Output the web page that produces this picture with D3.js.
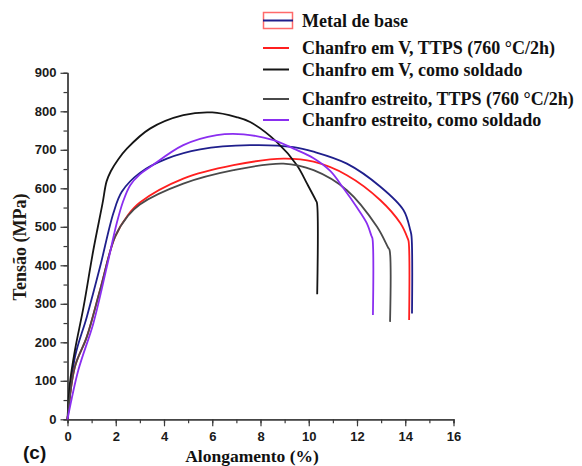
<!DOCTYPE html>
<html><head><meta charset="utf-8">
<script src="https://cdn.jsdelivr.net/npm/d3@7"></script>
<style>body{margin:0;background:#fff}svg{display:block}</style>
</head><body>
<svg id="c" width="582" height="466"></svg>
<script>
// ---- data ----
const seriesNames = ["Metal de base","Chanfro em V, TTPS (760 °C/2h)","Chanfro em V, como soldado","Chanfro estreito, TTPS (760 °C/2h)","Chanfro estreito, como soldado"];
const seriesColors = ["#1f1f8c","#ff1f1f","#151515","#4a4a4a","#8a2ef0"];
const metalBaseX = [0,0.03,0.31,0.8,1.35,1.9,2.25,3.0,4.12,5.5,7.57,9.37,10.2,11.58,12.97,13.93,14.21,14.26,14.28];
const metalBaseY = [0,17,162,266,396,535,591,640,677,701,712,707,695,664,604,543,491,475,275];
const vTtpsX = [0,0.31,0.8,1.35,1.97,2.5,3.0,4.8,6.88,8.95,10.2,11.58,12.97,13.8,14.1,14.14,14.16];
const vTtpsY = [0,137,214,336,474,530,563,625,660,677,669,634,569,509,470,462,258];
const vAsWeldedX = [0,0.1,0.31,0.66,1.07,1.45,1.62,1.8,2.1,2.46,3.42,4.8,6.0,7.0,7.57,8.68,9.51,9.93,10.3,10.34,10.35];
const vAsWeldedY = [0,94,180,290,439,560,618,645,675,703,755,790,797,785,772,720,660,612,568,562,325];
const nTtpsX = [0,0.31,0.8,1.35,1.97,2.5,3.0,4.8,6.88,8.95,10.2,11.58,12.83,13.3,13.35,13.37];
const nTtpsY = [0,137,214,336,474,528,558,612,647,664,647,595,500,445,440,253];
const nAsWeldedX = [0,0.45,1.07,1.63,2.04,2.3,2.6,3.0,3.42,4.8,6.19,7.3,8.54,9.37,10.2,10.89,11.44,12.0,12.41,12.6,12.64,12.66];
const nAsWeldedY = [0,128,249,396,509,565,608,636,655,712,738,740,725,703,678,645,600,550,509,476,470,271];
const xTicks = [0,2,4,6,8,10,12,14,16];
const yTicks = [0,100,200,300,400,500,600,700,800,900];

const seriesX = [metalBaseX,vTtpsX,vAsWeldedX,nTtpsX,nAsWeldedX];
const seriesY = [metalBaseY,vTtpsY,vAsWeldedY,nTtpsY,nAsWeldedY];

const svg = d3.select("#c");
const x = d3.scaleLinear().domain([0,16]).range([67.5,453.5]);
const y = d3.scaleLinear().domain([0,900]).range([419.3,72.8]);

// axes
const axisColor = "#3a3a3a";
function styleAxis(g){
  g.select(".domain").attr("stroke",axisColor).attr("stroke-width",1.3);
  g.selectAll(".tick line").attr("stroke",axisColor).attr("stroke-width",1.2);
  g.selectAll(".tick text").attr("fill","#1a1a1a").attr("font-family","'Liberation Sans',Arial,sans-serif").attr("font-weight","bold").attr("font-size",13);
}
const xMinor = d3.range(0,17,1);
const yMinor = d3.range(0,901,50);
svg.append("g").attr("transform",`translate(0,${y(0)})`)
  .call(d3.axisBottom(x).tickValues(xMinor).tickSize(4).tickFormat("")).call(styleAxis);
svg.append("g").attr("transform",`translate(${x(0)},0)`)
  .call(d3.axisLeft(y).tickValues(yMinor).tickSize(4).tickFormat("")).call(styleAxis);
svg.append("g").attr("transform",`translate(0,${y(0)})`)
  .call(d3.axisBottom(x).tickValues(xTicks).tickSize(7).tickSizeOuter(0).tickPadding(5).tickFormat(d3.format("d"))).call(styleAxis);
svg.append("g").attr("transform",`translate(${x(0)},0)`)
  .call(d3.axisLeft(y).tickValues(yTicks).tickSize(7).tickSizeOuter(0).tickPadding(4).tickFormat(d3.format("d"))).call(styleAxis);

// lines
const line = d3.line().x(d=>x(d[0])).y(d=>y(d[1])).curve(d3.curveCatmullRom.alpha(0.5));
seriesX.forEach((xs,i)=>{
  const pts = xs.map((v,j)=>[v,seriesY[i][j]]);
  svg.append("path").datum(pts).attr("d",line).attr("fill","none")
    .attr("stroke",seriesColors[i]).attr("stroke-width",1.8).attr("stroke-linejoin","round");
});

// legend
const legY = [20.5,48,69.5,99,120];
const lg = svg.append("g");
seriesNames.forEach((n,i)=>{
  if(i===0){
    lg.append("rect").attr("x",263.5).attr("y",12.5).attr("width",29).attr("height",16)
      .attr("fill","none").attr("stroke","#ff6a6a").attr("stroke-width",1.5);
  }
  lg.append("line").attr("x1",263).attr("x2",i===0?293:289).attr("y1",legY[i]).attr("y2",legY[i])
    .attr("stroke",seriesColors[i]).attr("stroke-width",2);
  lg.append("text").attr("x",302).attr("y",legY[i]).attr("dy","0.35em")
    .attr("font-family","'Liberation Serif','Times New Roman',serif").attr("font-weight","bold")
    .attr("font-size",18).attr("fill","#111").text(n);
});

// titles
svg.append("text").attr("x",252).attr("y",462).attr("text-anchor","middle")
  .attr("font-family","'Liberation Serif','Times New Roman',serif").attr("font-weight","bold")
  .attr("font-size",17.5).attr("fill","#111").text("Alongamento (%)");
svg.append("text").attr("transform","translate(26,247) rotate(-90)").attr("text-anchor","middle")
  .attr("font-family","'Liberation Serif','Times New Roman',serif").attr("font-weight","bold")
  .attr("font-size",18).attr("fill","#1e1a14").text("Tensão (MPa)");
svg.append("text").attr("x",23).attr("y",459)
  .attr("font-family","'Liberation Sans',Arial,sans-serif").attr("font-weight","bold")
  .attr("font-size",19).attr("fill","#111").text("(c)");
</script>
</body></html>
